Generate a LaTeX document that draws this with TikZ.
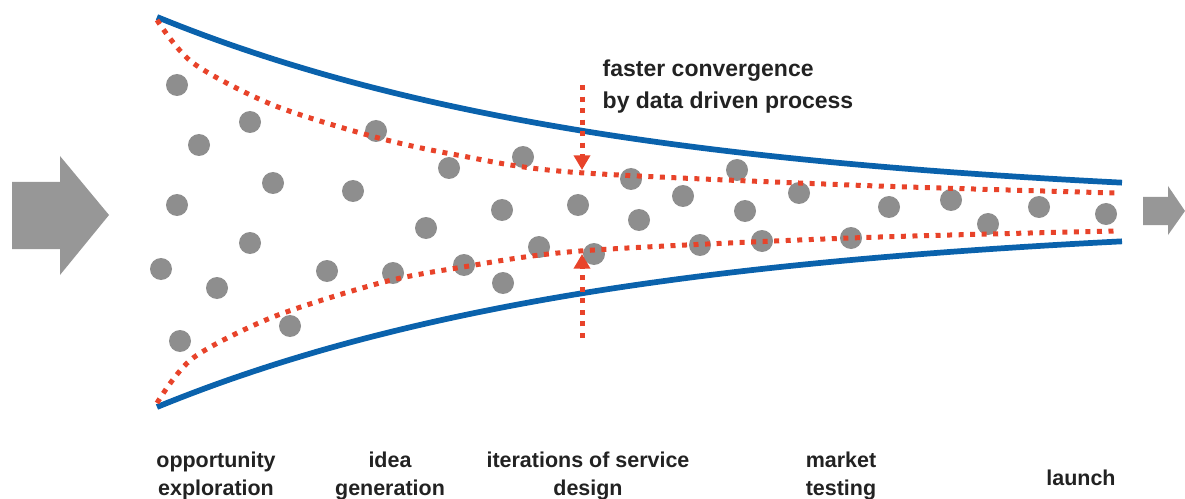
\documentclass[tikz,border=0pt]{standalone}
\usepackage{fontspec}
\setmainfont{Liberation Sans}
\usepackage{tikz}
\usetikzlibrary{arrows.meta}
\definecolor{fnblue}{HTML}{0A62AC}
\definecolor{fnred}{HTML}{E8432A}
\definecolor{fngray}{HTML}{8E8E8E}
\definecolor{fntext}{HTML}{222222}
\begin{document}
\begin{tikzpicture}[x=0.75pt,y=-0.75pt,
    wall/.style={fnblue,line width=4.3pt},
    track/.style={fnred,line width=3.75pt,dash pattern=on 3.75pt off 4.9pt},
    push/.style={track,-{Triangle[length=11pt,width=12pt]}},
    dot/.style={circle,fill=fngray,inner sep=0pt,minimum size=16.5pt},
    stage/.style={anchor=base,align=center,font=\bfseries\fontsize{16.1}{21}\selectfont,text=fntext},
    note/.style={anchor=base west,align=left,font=\bfseries\fontsize{17.25}{24}\selectfont,text=fntext}]
    \useasboundingbox (0,0) rectangle (1185,499);
    % in and out arrows
    \fill[fngray!92!white] (12,182) -- (60,182) -- (60,156) -- (109,215) -- (60,275)
      -- (60,249) -- (12,249) -- cycle;
    \fill[fngray!92!white] (1143,197) -- (1168,197) -- (1168,186) -- (1185,211) -- (1168,235)
      -- (1168,225) -- (1143,225) -- cycle;
    % ideas
    \foreach \x/\y [count=\i] in {177/85,250/122,199/145,376/131,449/168,273/183,353/191,
        177/205,426/228,250/243,161/269,217/288,327/271,393/273,290/326,180/341,
        523/157,502/210,539/247,503/283,464/265,578/205,594/254,631/179,639/220,
        683/196,737/170,745/211,700/245,762/241,799/193,851/238,889/207,951/200,
        988/224,1039/207,1106/214}
      \node[dot] (d\i) at (\x,\y) {};
    % funnel walls
    \draw[wall] plot[domain=157:1122,samples=80]
      (\x,{212-6-189*exp(-0.00216*(\x-157))});
    \draw[wall] plot[domain=157:1122,samples=80]
      (\x,{212+6+189*exp(-0.00216*(\x-157))});
    % data driven funnel
    \draw[track] plot[smooth] coordinates {(157,20) (193,63) (273,105) (375,137) (457,155)
      (570,172) (850,185) (1116,193)};
    \draw[track] plot[smooth] coordinates {(157,403) (193,358) (273,317) (380,283) (457,268)
      (580,251) (850,238) (1116,231)};
    \coordinate (a0) at (582,85);
    \coordinate (a1) at (582,170);
    \coordinate (b0) at (582,338);
    \coordinate (b1) at (582,254);
    \draw[push] (a0) -- (a1);
    \draw[push] (b0) -- (b1);
    \node[note] (conv) at (598,109) {faster convergence\\by data driven process};
    % stages
    \node[stage] (s1) at (216,495) {opportunity\\exploration};
    \node[stage] (s2) at (390,495) {idea\\generation};
    \node[stage] (s3) at (588,495) {iterations of service\\design};
    \node[stage] (s4) at (841,495) {market\\testing};
    \node[stage] (s5) at (1081,485) {launch};
\end{tikzpicture}
\end{document}
